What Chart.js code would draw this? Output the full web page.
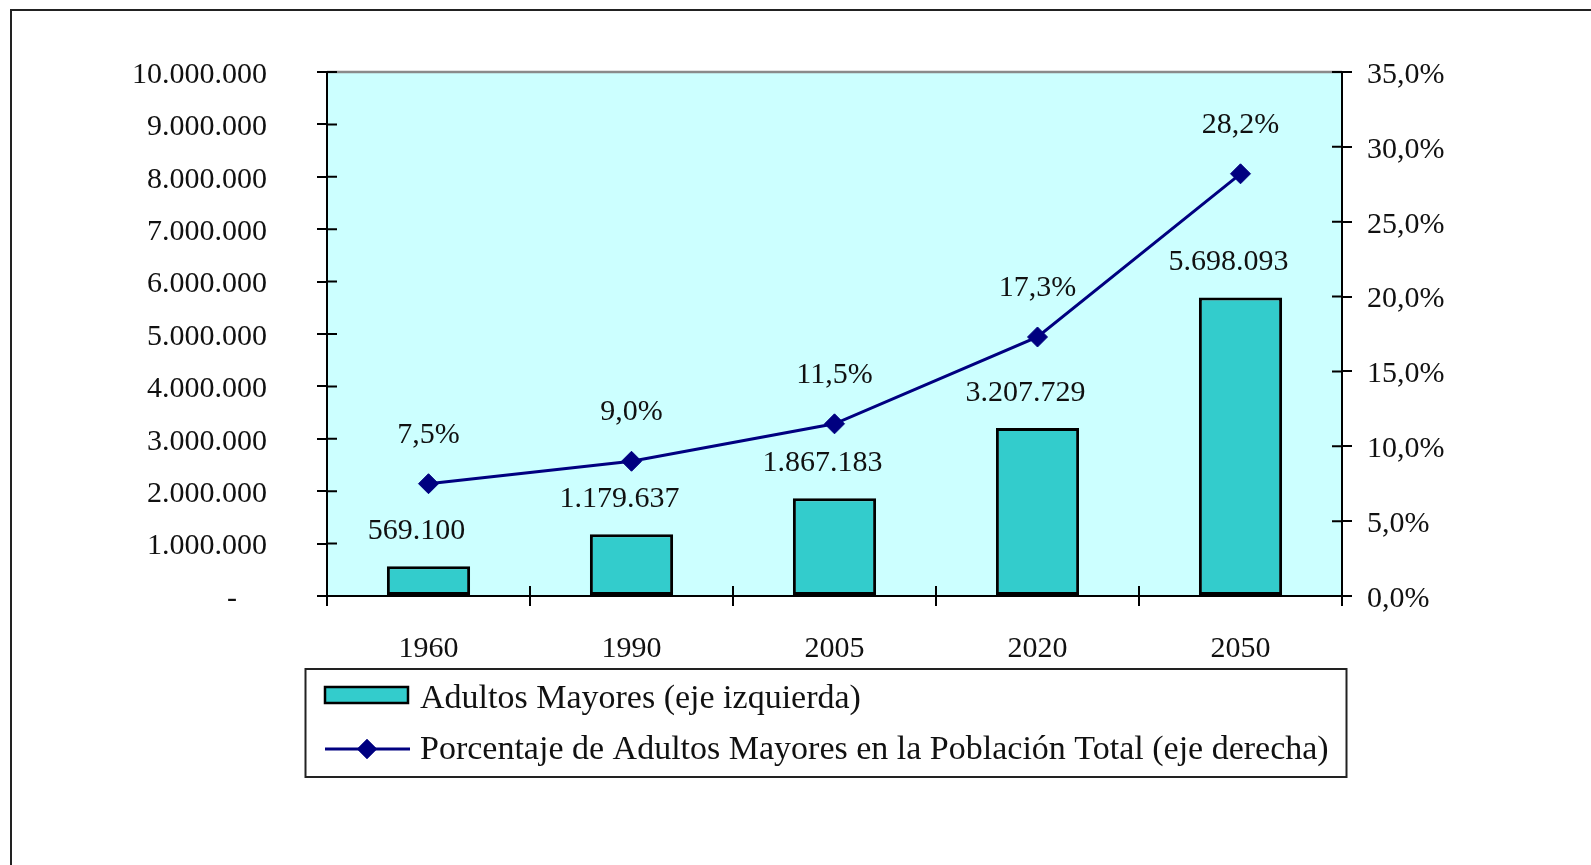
<!DOCTYPE html>
<html><head><meta charset="utf-8">
<script src="https://cdn.jsdelivr.net/npm/chart.js@4/dist/chart.umd.min.js"></script>
<style>html,body{margin:0;padding:0;background:#fff;}canvas{display:block}</style>
</head><body>
<canvas id="c" width="1591" height="865"></canvas>
<script>
const categories = ['1960', '1990', '2005', '2020', '2050'];
const adultosMayores = [569100, 1179637, 1867183, 3207729, 5698093];
const porcentaje = [7.5, 9.0, 11.5, 17.3, 28.2];
const leftTickLabels = ['-    ', '1.000.000', '2.000.000', '3.000.000', '4.000.000', '5.000.000', '6.000.000', '7.000.000', '8.000.000', '9.000.000', '10.000.000'];
const rightTickLabels = ['0,0%', '5,0%', '10,0%', '15,0%', '20,0%', '25,0%', '30,0%', '35,0%'];
const seriesNames = ['Adultos Mayores (eje izquierda)', 'Porcentaje de Adultos Mayores en la Población Total (eje derecha)'];

const FONT = "'Liberation Serif', 'Times New Roman', serif";
const TXT = '#111';
const fmtInt = v => String(v).replace(/\B(?=(\d{3})+(?!\d))/g, '.');
const fmtPct = v => v.toFixed(1).replace('.', ',') + '%';

const framePlugin = {
  id: 'frame',
  beforeDraw(chart) {
    const {ctx, chartArea: a} = chart;
    ctx.save();
    ctx.fillStyle = '#fff';
    ctx.fillRect(0, 0, chart.width, chart.height);
    ctx.strokeStyle = '#222';
    ctx.lineWidth = 2;
    ctx.strokeRect(11, 10, chart.width + 40, chart.height + 40);
    ctx.fillStyle = '#CCFFFF';
    ctx.fillRect(a.left, a.top, a.right - a.left, a.bottom - a.top);
    ctx.strokeStyle = '#8a8a8a';
    ctx.lineWidth = 2.5;
    ctx.beginPath(); ctx.moveTo(a.left, a.top); ctx.lineTo(a.right, a.top); ctx.stroke();
    ctx.restore();
  }
};

const innerTicks = {
  id: 'innerTicks',
  afterDraw(chart) {
    const {ctx} = chart;
    const s = chart.scales;
    ctx.save();
    ctx.strokeStyle = '#000';
    ctx.lineWidth = 2;
    ctx.beginPath();
    s.yL.ticks.forEach((t, i) => { const y = s.yL.getPixelForTick(i); ctx.moveTo(s.yL.right, y); ctx.lineTo(s.yL.right + 10, y); });
    s.yR.ticks.forEach((t, i) => { const y = s.yR.getPixelForTick(i); ctx.moveTo(s.yR.left, y); ctx.lineTo(s.yR.left - 10, y); });
    for (let i = 0; i <= categories.length; i++) {
      const x = s.x.getPixelForValue(i - 0.5);
      ctx.moveTo(x, s.x.top); ctx.lineTo(x, s.x.top - 10);
    }
    ctx.stroke();
    ctx.restore();
  }
};

const valueLabels = {
  id: 'valueLabels',
  afterDatasetsDraw(chart) {
    const ctx = chart.ctx;
    ctx.save();
    ctx.font = '30px ' + FONT;
    ctx.fillStyle = TXT;
    ctx.textAlign = 'center';
    ctx.textBaseline = 'middle';
    chart.getDatasetMeta(1).data.forEach((el, i) => ctx.fillText(fmtInt(adultosMayores[i]), el.x - 12, el.y - 35));
    chart.getDatasetMeta(0).data.forEach((el, i) => ctx.fillText(fmtPct(porcentaje[i]), el.x, el.y - 49));
    ctx.restore();
  }
};

const customLegend = {
  id: 'customLegend',
  afterDraw(chart) {
    const ctx = chart.ctx;
    const bar = chart.data.datasets[1], line = chart.data.datasets[0];
    ctx.save();
    const bx = 305.5, by = 669, bw = 1041, bh = 108;
    ctx.fillStyle = '#fff';
    ctx.fillRect(bx, by, bw, bh);
    ctx.strokeStyle = '#222';
    ctx.lineWidth = 2;
    ctx.strokeRect(bx, by, bw, bh);
    // row 1
    ctx.fillStyle = bar.backgroundColor;
    ctx.fillRect(325, 687, 83, 16);
    ctx.strokeStyle = '#000'; ctx.lineWidth = 2.5;
    ctx.strokeRect(325, 687, 83, 16);
    ctx.font = '34px ' + FONT;
    ctx.fillStyle = TXT;
    ctx.textAlign = 'left';
    ctx.textBaseline = 'middle';
    ctx.fillText(bar.label, 420, 699);
    // row 2
    ctx.strokeStyle = line.borderColor; ctx.lineWidth = 3;
    ctx.beginPath(); ctx.moveTo(325, 749); ctx.lineTo(410, 749); ctx.stroke();
    ctx.fillStyle = line.pointBackgroundColor;
    Chart.helpers.drawPoint(ctx, {pointStyle: 'rectRot', radius: 10, rotation: 0, borderWidth: 0}, 367, 749);
    ctx.fill();
    ctx.fillStyle = TXT;
    ctx.fillText(line.label, 420, 750);
    ctx.restore();
  }
};

new Chart(document.getElementById('c'), {
  type: 'bar',
  data: {
    labels: categories,
    datasets: [
      {
        type: 'line', label: seriesNames[1], data: porcentaje, yAxisID: 'yR', order: 0,
        borderColor: '#000080', borderWidth: 3, tension: 0,
        pointStyle: 'rectRot', pointRadius: 10, pointBackgroundColor: '#000080', pointBorderColor: '#000080', pointBorderWidth: 1
      },
      {
        type: 'bar', label: seriesNames[0], data: adultosMayores, yAxisID: 'yL', order: 1,
        backgroundColor: '#33CCCC', borderColor: '#000', borderWidth: 3, borderSkipped: false,
        categoryPercentage: 1, barPercentage: 0.41
      }
    ]
  },
  options: {
    responsive: false, animation: false, devicePixelRatio: 1,
    layout: {padding: {top: 72, left: 0, right: 0, bottom: 0}},
    plugins: {legend: {display: false}, tooltip: {enabled: false}},
    scales: {
      x: {
        offset: true,
        grid: {offset: true, drawOnChartArea: false, drawTicks: true, tickLength: 10, color: '#000', lineWidth: 2},
        border: {color: '#000', width: 2},
        ticks: {font: {family: FONT, size: 30}, color: TXT, padding: 25},
        afterFit(s) { s.height = 865 - 596; }
      },
      yL: {
        position: 'left', min: 0, max: 10000000,
        grid: {drawOnChartArea: false, tickLength: 10, color: '#000', lineWidth: 2},
        border: {color: '#000', width: 2},
        ticks: {stepSize: 1000000, callback: (v, i) => leftTickLabels[i], font: {family: FONT, size: 30}, color: TXT, padding: 50, labelOffset: 3},
        afterFit(s) { s.width = 327; }
      },
      yR: {
        position: 'right', min: 0, max: 35,
        grid: {drawOnChartArea: false, tickLength: 10, color: '#000', lineWidth: 2},
        border: {color: '#000', width: 2},
        ticks: {stepSize: 5, callback: (v, i) => rightTickLabels[i], font: {family: FONT, size: 30}, color: TXT, padding: 15, labelOffset: 3},
        afterFit(s) { s.width = 1591 - 1342; }
      }
    }
  },
  plugins: [framePlugin, innerTicks, valueLabels, customLegend]
});
</script>
</body></html>
